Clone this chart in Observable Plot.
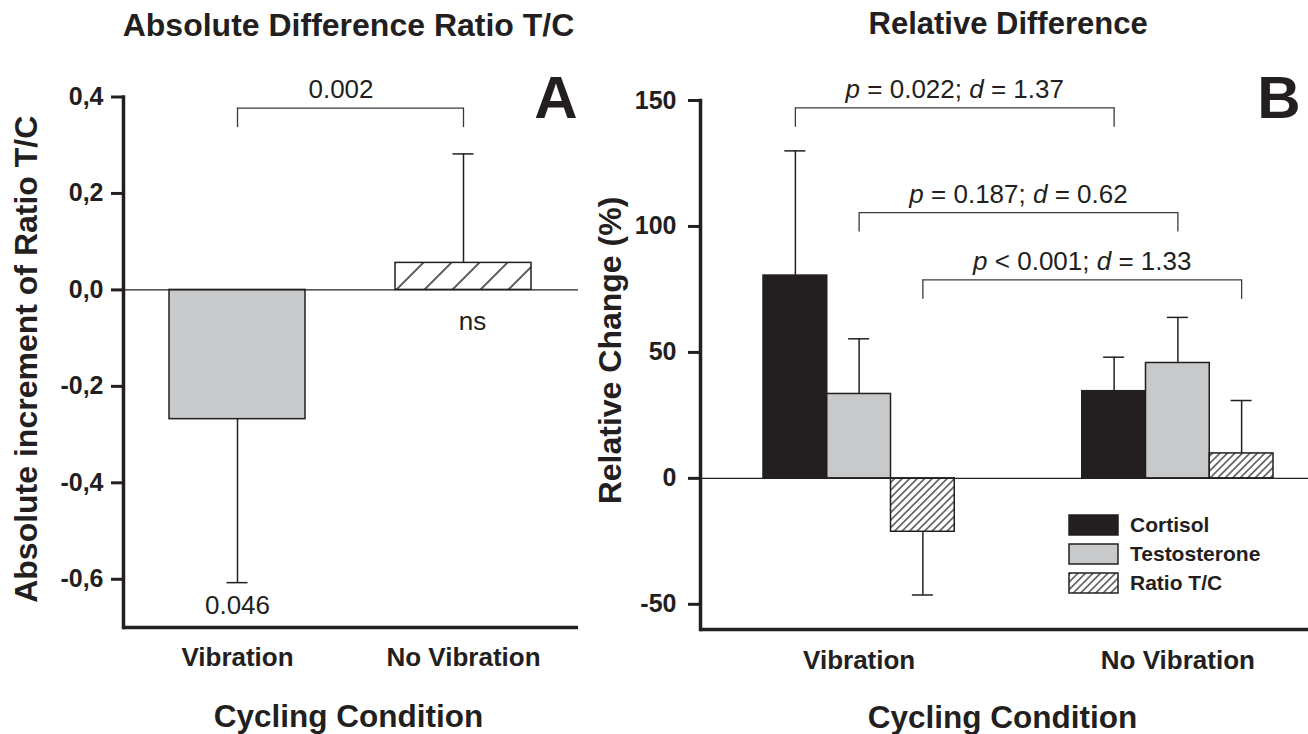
<!DOCTYPE html>
<html><head><meta charset="utf-8">
<script src="https://cdn.jsdelivr.net/npm/d3@7"></script>
<script src="https://cdn.jsdelivr.net/npm/@observablehq/plot@0.6"></script>
<style>
html,body{margin:0;padding:0;background:#fff;}
#wrap{position:relative;width:1308px;height:734px;overflow:hidden;background:#fff;}
#wrap > *{position:absolute;top:0;}
</style></head><body><div id="wrap"></div>
<script>
// ---------- data ----------
const conditions = ["Vibration", "No Vibration"];

// Panel A: absolute difference of ratio T/C
const absMean = [-0.268, 0.056];
const absSD = [0.339, 0.226];
const absNotes = ["0.046", "ns"];
const absTicks = [-0.6, -0.4, -0.2, 0, 0.2, 0.4];
const absBracketLevel = 0.377;
const absBracketLabel = "0.002";

// Panel B: relative difference (%)
const hormones = ["Cortisol", "Testosterone", "Ratio T/C"];
const cortisolMean = [80.5, 34.6];
const cortisolSD = [49.5, 13.5];
const testosteroneMean = [33.5, 45.8];
const testosteroneSD = [21.9, 18.1];
const ratioMean = [-21.2, 9.9];
const ratioSD = [25.1, 21.0];
const relTicks = [-50, 0, 50, 100, 150];
const bracketLevels = [147.1, 105.5, 78.8];
const bracketLabels = ["p = 0.022; d = 1.37", "p = 0.187; d = 0.62", "p < 0.001; d = 1.33"];

// ---------- styles ----------
const FONT = '"Liberation Sans", Arial, Helvetica, sans-serif';
const INK = "#231f20";
const GRAY = "#c8c9ca";
const BRK = "#3a3a3a";
const absFills = [GRAY, "url(#hatchA)"];
const relFills = [INK, GRAY, "url(#hatchB)"];

function addHatch(svg, id, s, w) {
  let defs = d3.select(svg).select("defs");
  if (defs.empty()) defs = d3.select(svg).insert("defs", ":first-child");
  const p = defs.append("pattern").attr("id", id).attr("patternUnits", "userSpaceOnUse")
    .attr("width", s).attr("height", s).attr("patternTransform", "rotate(45)");
  p.append("rect").attr("width", s).attr("height", s).attr("fill", "white");
  p.append("line").attr("x1", s / 2).attr("x2", s / 2).attr("y1", -1).attr("y2", s + 1)
    .attr("stroke", INK).attr("stroke-width", w);
}

const wrap = document.getElementById("wrap");

// ---------- Panel A ----------
const absRows = conditions.map((c, i) => ({
  condition: c, mean: absMean[i],
  end: absMean[i] + Math.sign(absMean[i]) * absSD[i], note: absNotes[i]
}));
const absBracket = [{from: conditions[0], to: conditions[1], level: absBracketLevel, label: absBracketLabel}];
const absLegs = absBracket.flatMap(b => [{x: b.from, level: b.level}, {x: b.to, level: b.level}]);

const plotA = Plot.plot({
  width: 590, height: 734,
  marginLeft: 123, marginRight: 12, marginTop: 96.5, marginBottom: 107,
  style: {fontFamily: FONT, color: INK, background: "white", overflow: "visible"},
  x: {type: "band", domain: conditions, range: [168.6, 531.4], paddingInner: 0.4, paddingOuter: 0, align: 0.5},
  y: {domain: [-0.7, 0.4]},
  color: {domain: conditions, range: absFills},
  marks: [
    Plot.barY(absRows, {x: "condition", y1: 0, y2: "mean", fill: "condition", stroke: INK, strokeWidth: 1.5}),
    Plot.ruleX(absRows, {x: "condition", y1: "mean", y2: "end", stroke: INK, strokeWidth: 1.5}),
    Plot.tickY(absRows, {x: "condition", y: "end", insetLeft: 57.5, insetRight: 57.5, stroke: INK, strokeWidth: 1.5}),
    Plot.ruleY([0], {stroke: INK, strokeWidth: 1.3}),
    Plot.ruleY([-0.7], {stroke: INK, strokeWidth: 3.5}),
    Plot.frame({anchor: "left", stroke: INK, strokeWidth: 3.5}),
    Plot.axisY({ticks: absTicks, tickFormat: d => d.toFixed(1).replace(".", ","), tickSize: 12, tickPadding: 8,
      fontSize: 25, fontWeight: "bold", strokeWidth: 3, label: null}),
    Plot.axisX({tickSize: 0, tickPadding: 20, fontSize: 26, fontWeight: "bold", label: null}),
    // bracket
    Plot.link(absBracket, {x1: "from", x2: "to", y1: "level", y2: "level", stroke: BRK, strokeWidth: 1.3}),
    Plot.ruleX(absLegs, {x: "x", y1: "level", y2: "level", insetBottom: -19.5, stroke: BRK, strokeWidth: 1.3}),
    Plot.text(absBracket, {y: "level", text: "label", frameAnchor: "middle", dx: -10, dy: -10.5, lineAnchor: "bottom", fontSize: 26}),
    // notes
    Plot.text(absRows.filter(d => d.mean < 0), {x: "condition", y: "end", text: "note", lineAnchor: "top", dy: 13, fontSize: 26}),
    Plot.text(absRows.filter(d => d.mean >= 0), {x: "condition", y: 0, text: "note", lineAnchor: "top", dy: 22, dx: 9, fontSize: 26}),
    // titles
    Plot.text(["A"], {text: d => d, frameAnchor: "top-right", textAnchor: "end", lineAnchor: "bottom", dx: -1, dy: 20.5, fontSize: 60, fontWeight: "bold"}),
    Plot.text(["Absolute Difference Ratio T/C"], {text: d => d, frameAnchor: "top", textAnchor: "middle", lineAnchor: "bottom", dx: -2.5, dy: -61, fontSize: 32, fontWeight: "bold"}),
    Plot.text(["Absolute increment of Ratio T/C"], {text: d => d, frameAnchor: "left", textAnchor: "middle", rotate: -90, lineAnchor: "bottom", dx: -87, dy: -3, fontSize: 32, fontWeight: "bold"}),
    Plot.text(["Cycling Condition"], {text: d => d, frameAnchor: "bottom", textAnchor: "middle", lineAnchor: "bottom", dx: -2.5, dy: 99, fontSize: 31.5, fontWeight: "bold"})
  ]
});
addHatch(plotA, "hatchA", 19.8, 1.5);
plotA.style.left = "0px";
wrap.appendChild(plotA);

// ---------- Panel B ----------
const groupSlots = hormones.length + 2;
const relMeans = [cortisolMean, testosteroneMean, ratioMean];
const relSDs = [cortisolSD, testosteroneSD, ratioSD];
const relRows = conditions.flatMap((c, ci) => hormones.map((h, hi) => {
  const mean = relMeans[hi][ci], sd = relSDs[hi][ci];
  const slot = ci * groupSlots + hi;
  return {condition: c, hormone: h, slot, center: slot + 0.5, mean, end: mean + Math.sign(mean) * sd};
}));
const groupCenters = conditions.map((c, ci) => ci * groupSlots + hormones.length / 2);
const relBrackets = hormones.map((h, hi) => ({
  from: hi + 0.5, to: groupSlots + hi + 0.5, level: bracketLevels[hi], label: bracketLabels[hi]
}));
const relLegs = relBrackets.flatMap(b => [{x: b.from, level: b.level}, {x: b.to, level: b.level}]);

const plotB = Plot.plot({
  width: 718, height: 734,
  marginLeft: 110, marginRight: 0, marginTop: 100, marginBottom: 105,
  style: {fontFamily: FONT, color: INK, background: "white", overflow: "visible"},
  x: {type: "linear", domain: [0, groupSlots * (conditions.length - 1) + hormones.length], range: [173, 683]},
  y: {domain: [-60, 150]},
  color: {domain: hormones, range: relFills},
  marks: [
    Plot.rect(relRows, {x1: "slot", x2: d => d.slot + 1, y1: 0, y2: "mean", fill: "hormone", stroke: INK, strokeWidth: 1.5}),
    Plot.ruleX(relRows, {x: "center", y1: "mean", y2: "end", stroke: INK, strokeWidth: 1.5}),
    Plot.ruleY(relRows, {y: "end", x1: "center", x2: "center", insetLeft: -10.5, insetRight: -10.5, stroke: INK, strokeWidth: 1.5}),
    Plot.ruleY([0], {stroke: INK, strokeWidth: 1.3}),
    Plot.ruleY([-60], {stroke: INK, strokeWidth: 3.5}),
    Plot.frame({anchor: "left", stroke: INK, strokeWidth: 3.5}),
    Plot.axisY({ticks: relTicks, tickFormat: d => String(d), tickSize: 12, tickPadding: 12,
      fontSize: 25, fontWeight: "bold", strokeWidth: 3, label: null}),
    Plot.axisX({ticks: groupCenters, tickFormat: d => conditions[groupCenters.indexOf(d)], tickSize: 0, tickPadding: 21,
      fontSize: 26, fontWeight: "bold", label: null}),
    // brackets
    Plot.link(relBrackets, {x1: "from", x2: "to", y1: "level", y2: "level", stroke: BRK, strokeWidth: 1.3}),
    Plot.ruleX(relLegs, {x: "x", y1: "level", y2: "level", insetBottom: -19.5, stroke: BRK, strokeWidth: 1.3}),
    Plot.text(relBrackets, {x: d => (d.from + d.to) / 2, y: "level", text: "label", lineAnchor: "bottom", dy: -10, fontSize: 26}),
    // titles
    Plot.text(["B"], {text: d => d, frameAnchor: "top-right", textAnchor: "end", lineAnchor: "bottom", dx: -8, dy: 17, fontSize: 60, fontWeight: "bold"}),
    Plot.text(["Relative Difference"], {text: d => d, frameAnchor: "top", textAnchor: "middle", lineAnchor: "bottom", dx: 3.6, dy: -67, fontSize: 31, fontWeight: "bold"}),
    Plot.text(["Relative Change (%)"], {text: d => d, frameAnchor: "left", textAnchor: "middle", rotate: -90, lineAnchor: "bottom", dx: -80, dy: -14.5, fontSize: 32, fontWeight: "bold"}),
    Plot.text(["Cycling Condition"], {text: d => d, frameAnchor: "bottom", textAnchor: "middle", lineAnchor: "bottom", dx: -2, dy: 98, fontSize: 31.5, fontWeight: "bold"})
  ]
});
addHatch(plotB, "hatchB", 5.3, 1.2);
// italic statistics symbols
d3.select(plotB).selectAll("text").each(function() {
  if (this.querySelector("tspan")) return;
  const m = /^p( [=<] [^;]+; )d( = .+)$/.exec(this.textContent);
  if (!m) return;
  this.textContent = "";
  const s = d3.select(this);
  s.append("tspan").attr("font-style", "italic").text("p");
  s.append("tspan").text(m[1]);
  s.append("tspan").attr("font-style", "italic").text("d");
  s.append("tspan").text(m[2]);
});
plotB.style.left = "590px";
wrap.appendChild(plotB);

// ---------- Legend (panel B) ----------
const legend = d3.create("svg").attr("width", 240).attr("height", 100)
  .style("left", "1060px").style("top", "505px")
  .style("font-family", FONT);
addHatch(legend.node(), "hatchL", 5.3, 1.2);
const legendFills = [INK, GRAY, "url(#hatchL)"];
hormones.forEach((h, i) => {
  const y = 10 + i * 29;
  legend.append("rect").attr("x", 9).attr("y", y).attr("width", 49).attr("height", 20)
    .attr("fill", legendFills[i]).attr("stroke", INK).attr("stroke-width", 1.5);
  legend.append("text").attr("x", 70).attr("y", y + 17).attr("fill", INK)
    .attr("font-size", 21).attr("font-weight", "bold").text(h);
});
wrap.appendChild(legend.node());
</script></body></html>
